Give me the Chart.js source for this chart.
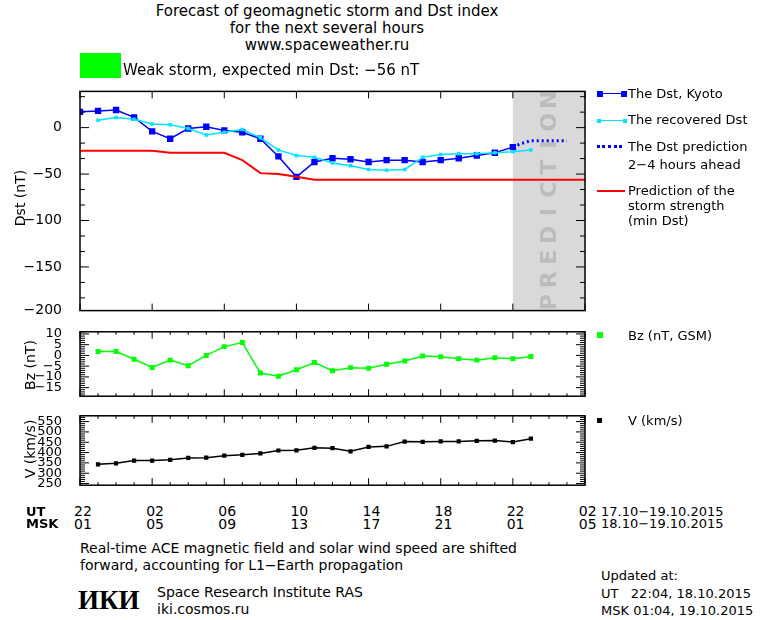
<!DOCTYPE html>
<html><head><meta charset="utf-8">
<script src="https://cdn.jsdelivr.net/npm/chart.js@4"></script>
<style>
body{margin:0;background:#fff;width:760px;height:620px;position:relative;overflow:hidden;font-family:"DejaVu Sans",sans-serif;color:#000}
canvas{position:absolute;left:0}
.t{position:absolute;white-space:nowrap;font-size:13px;line-height:1}
.c{transform:translateX(-50%)}
.r{transform:rotate(-90deg);transform-origin:center}
</style></head><body>
<script>
// ---- data (hours after 22 UT, 17.10.2015) ----
const hours = [0,1,2,3,4,5,6,7,8,9,10,11,12,13,14,15,16,17,18,19,20,21,22,23,24,25];
const dstKyoto = [17,18,19,11,-4,-12,-1,1,-3,-5,-12,-31,-53,-37,-33,-34,-37,-35,-35,-37,-35,-33,-30,-27,-21];
const dstRecovered = [null,8,11,9,4,3,-1,-8,-5,-2,-11,-24,-30,-32,-38,-41,-45,-46,-45,-32,-29,-28,-28,-27,-26,-24];
const predHours = [24,24.5,25,26,27];
const dstPrediction = [-21,-17,-14,-14,-14];
const stormHours = [0,4,5,8,9,10,11,12,13,28];
const stormMinDst = [-25,-25,-27,-27,-35,-49,-50,-53,-56,-56];
const bz = [null,1.8,1.8,-1.8,-5.6,-2.2,-4.8,0,4.1,6,-8.2,-9.7,-6.7,-3.3,-7.1,-5.7,-6,-4.1,-2.6,-0.3,-0.6,-1.5,-2.2,-1.1,-1.5,-0.5];
const speed = [null,343,348,361,361,365,374,375,385,389,396,410,411,423,421,406,427,430,453,452,454,454,457,458,451,467];
const utLabels = ["22","02","06","10","14","18","22","02"];
const mskLabels = ["01","05","09","13","17","21","01","05"];
</script>
<canvas id="c1" width="760" height="256" style="top:73px"></canvas>
<canvas id="c2" width="760" height="100" style="top:314px"></canvas>
<canvas id="c3" width="760" height="105" style="top:398px"></canvas>
<div id="txt"></div>
<script>
const X0=80,X1=585;
const pts=(xs,ys)=>xs.map((x,i)=>({x,y:ys[i]})).filter(p=>p.y!==null&&p.y!==undefined);
function frame(minorStep, xMinor){
  return {id:'frame',
  beforeDatasetsDraw(ch){
    const {ctx,chartArea:ca,scales:{x,y}}=ch;
    if(ch.canvas.id==='c1'){
      ctx.save();ctx.fillStyle='#d9d9d9';
      const xa=x.getPixelForValue(24);ctx.fillRect(xa,ca.top,ca.right-xa,ca.bottom-ca.top);
      ctx.translate((xa+ca.right)/2+1,(ca.top+ca.bottom)/2);ctx.rotate(-Math.PI/2);
      ctx.fillStyle='#bcbcbc';ctx.font='bold 22px "DejaVu Sans"';ctx.textAlign='center';ctx.textBaseline='middle';
      const s='PREDICTION';const w=22.5;
      for(let i=0;i<s.length;i++)ctx.fillText(s[i],(i-(s.length-1)/2)*w,0);
      ctx.restore();
    }
  },
  afterDatasetsDraw(ch){
    const {ctx,chartArea:ca,scales:{x,y}}=ch;
    ctx.save();ctx.strokeStyle='#000';ctx.lineWidth=1.5;
    ctx.strokeRect(ca.left,ca.top,ca.right-ca.left,ca.bottom-ca.top);
    ctx.lineWidth=1;ctx.beginPath();
    for(let h=0;h<=28;h+=xMinor){const px=x.getPixelForValue(h);const L=h%4===0?7:3;
      ctx.moveTo(px,ca.top);ctx.lineTo(px,ca.top+L);ctx.moveTo(px,ca.bottom);ctx.lineTo(px,ca.bottom-L);}
    const mn=y.min,mx=y.max;
    for(let v=Math.ceil(mn/minorStep)*minorStep;v<=mx;v+=minorStep){const py=y.getPixelForValue(v);
      const major=y.ticks.some(t=>Math.abs(t.value-v)<1e-6);const L=major?9:5;
      ctx.moveTo(ca.left,py);ctx.lineTo(ca.left+L,py);ctx.moveTo(ca.right,py);ctx.lineTo(ca.right-L,py);}
    ctx.stroke();ctx.restore();
  }};
}
function mk(id,ymin,ymax,tickVals,minorStep,xMinor,fs,datasets,cb){
  return new Chart(document.getElementById(id),{type:'line',data:{datasets},
   options:{responsive:false,animation:false,devicePixelRatio:1,
    layout:{padding:{top:10,bottom:10,left:0,right:760-X1}},
    plugins:{legend:{display:false},tooltip:{enabled:false}},
    scales:{x:{type:'linear',min:0,max:28,display:false},
     y:{min:ymin,max:ymax,afterFit:s=>{s.width=X0;},afterBuildTicks:s=>{s.ticks=tickVals.map(v=>({value:v}));},
      grid:{display:false},border:{display:false},
      ticks:{autoSkip:false,color:'#000',font:{family:'DejaVu Sans',size:fs},padding:10,callback:cb||(v=>String(v).replace('-','\u2212'))}}}},
   plugins:[frame(minorStep,xMinor)]});
}
mk('c1',-197,39,[-197,-150,-100,-50,0],50/3,4,14,[
 {data:pts(stormHours,stormMinDst),borderColor:'#ff0000',borderWidth:2,pointRadius:0,tension:0},
 {data:pts(hours,dstRecovered),borderColor:'#00e5ff',backgroundColor:'#00e5ff',borderWidth:1.5,pointStyle:'rect',pointRadius:2.5,pointBorderWidth:0},
 {data:pts(hours,dstKyoto),borderColor:'#0000ff',backgroundColor:'#0000ff',borderWidth:1.5,pointStyle:'rect',pointRadius:4.5,pointBorderWidth:0},
 {data:pts(predHours,dstPrediction),borderColor:'#0000ff',borderWidth:3,borderDash:[2,3],pointRadius:0}
],v=>v===-197?'\u2212200':String(v).replace('-','\u2212'));
mk('c2',-19,11,[-15,-10,-5,0,5,10],1,1,13,[
 {data:pts(hours,bz),borderColor:'#00ff00',backgroundColor:'#00ff00',borderWidth:1.5,pointStyle:'rect',pointRadius:3.5,pointBorderWidth:0}
]);
mk('c3',242,578,[250,300,350,400,450,500,550],10,1,13,[
 {data:pts(hours,speed),borderColor:'#000',backgroundColor:'#000',borderWidth:1.5,pointStyle:'rect',pointRadius:3,pointBorderWidth:0}
]);
// ---- texts ----
const T=document.getElementById('txt');
function t(s,x,y,sz,extra){const d=document.createElement('div');d.className='t '+(extra||'');d.style.left=x+'px';d.style.top=y+'px';if(sz)d.style.fontSize=sz+'px';d.innerHTML=s;T.appendChild(d);return d;}
t('Forecast of geomagnetic storm and Dst index',327,4,15,'c');
t('for the next several hours',327,21,15,'c');
t('www.spaceweather.ru',327,38,15,'c');
const g=document.createElement('div');g.style.cssText='position:absolute;left:80px;top:53px;width:41px;height:25px;background:#00ff00';T.appendChild(g);
t('Weak storm, expected min Dst: \u221256 nT',123,63,15);
const dr=t('Dst (nT)',-10,191,14,'r');dr.style.width='60px';dr.style.textAlign='center';
const br=t('Bz (nT)',0,358,14,'r');br.style.width='60px';br.style.textAlign='center';
const vr=t('V (km/s)',-2,442,14,'r');vr.style.width='64px';vr.style.textAlign='center';
// legend
function leg(y,col,sz,dashed){const d=document.createElement('div');
 if(dashed){d.style.cssText=`position:absolute;left:597px;top:${y}px;width:25px;height:0;border-top:3px dotted ${col}`;}
 else if(sz===0){d.style.cssText=`position:absolute;left:597px;top:${y}px;width:28px;height:2px;background:${col}`;}
 else {d.style.cssText=`position:absolute;left:597px;top:${y}px;width:30px;height:${sz}px`;
  d.innerHTML=`<div style="position:absolute;left:0;top:${-sz/2+1}px;width:${sz}px;height:${sz}px;background:${col}"></div><div style="position:absolute;left:0;top:0;width:30px;height:1px;background:${col}"></div><div style="position:absolute;left:${30-sz}px;top:${-sz/2+1}px;width:${sz}px;height:${sz}px;background:${col}"></div>`;}
 T.appendChild(d);}
leg(93,'#0000ff',6);t('The Dst, Kyoto',628,87,13);
leg(120,'#00e5ff',4);t('The recovered Dst',628,113,13);
leg(145,'#0000ff',0,true);t('The Dst prediction',628,140,13);t('2\u22124 hours ahead',628,158,13);
leg(190,'#ff0000',0);t('Prediction of the',628,184,13);t('storm strength',628,199,13);t('(min Dst)',628,214,13);
const b1=document.createElement('div');b1.style.cssText='position:absolute;left:597px;top:332px;width:6px;height:6px;background:#00ff00';T.appendChild(b1);
t('Bz (nT, GSM)',628,329,13);
const b2=document.createElement('div');b2.style.cssText='position:absolute;left:597px;top:418px;width:5px;height:5px;background:#000';T.appendChild(b2);
t('V (km/s)',628,414,13);
// time axis
t('<b>UT</b>',26,505,13);t('<b>MSK</b>',26,517,13);
utLabels.forEach((s,i)=>{t(s,83+i*72.1,504,14,'c');t(mskLabels[i],83+i*72.1,517,14,'c');});
t('17.10\u221219.10.2015',601,505,13);t('18.10\u221219.10.2015',601,517,13);
t('Real-time ACE magnetic field and solar wind speed are shifted',80,541,14);
t('forward, accounting for L1\u2212Earth propagation',80,558,14);
t('<b>ИКИ</b>',78,587,27).style.fontFamily='"Liberation Serif",serif';
t('Space Research Institute RAS',157,585,14);t('iki.cosmos.ru',157,602,14);
t('Updated at:',601,569,13);t('UT &nbsp;&nbsp;22:04, 18.10.2015',601,587,13);t('MSK 01:04, 19.10.2015',601,604,13);
</script>
</body></html>
